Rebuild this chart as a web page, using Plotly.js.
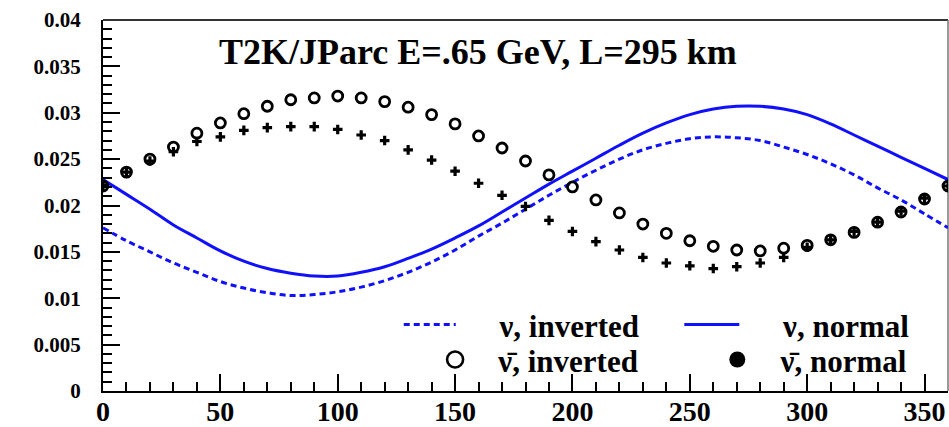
<!DOCTYPE html>
<html>
<head>
<meta charset="utf-8">
<script src="https://cdn.plot.ly/plotly-3.0.1.min.js"></script>
<style>html,body{margin:0;padding:0;background:#fff}#chart{width:949px;height:427px}</style>
</head>
<body>
<div id="chart"></div>
<script>
// delta_CP in degrees
const deltaCP = [0,10,20,30,40,50,60,70,80,90,100,110,120,130,140,150,160,170,180,
                 190,200,210,220,230,240,250,260,270,280,290,300,310,320,330,340,350,360];

// neutrino, inverted hierarchy (dashed line)
const nuInverted = [0.0176,0.0162,0.0150,0.0138,0.0128,0.0118,0.0111,0.0106,0.0103,0.0104,
                    0.0107,0.0112,0.0119,0.0128,0.0139,0.0152,0.0167,0.0181,0.0196,0.0211,
                    0.0225,0.0238,0.0250,0.0260,0.0267,0.0272,0.0274,0.0273,0.0270,0.0263,
                    0.0255,0.0245,0.0233,0.0219,0.0206,0.0191,0.0176];

// neutrino, normal hierarchy (solid line)
const nuNormal = [0.0228,0.0212,0.0196,0.0179,0.0165,0.0151,0.0140,0.0132,0.0127,0.0124,
                  0.0124,0.0128,0.0134,0.0143,0.0153,0.0165,0.0178,0.0193,0.0208,0.0223,
                  0.0237,0.0251,0.0265,0.0278,0.0289,0.0298,0.0304,0.0307,0.0307,0.0304,
                  0.0298,0.0288,0.0276,0.0264,0.0252,0.0240,0.0228];

// anti-neutrino, inverted hierarchy (open circles)
const nubarInverted = [0.0221,0.0236,0.0250,0.0263,0.0278,0.0289,0.0299,0.0307,0.0314,0.0316,
                       0.0318,0.0316,0.0312,0.0306,0.0298,0.0288,0.0275,0.0262,0.0248,0.0233,
                       0.0220,0.0206,0.0192,0.0180,0.0170,0.0162,0.0156,0.0152,0.0151,0.0154,
                       0.0157,0.0163,0.0171,0.0182,0.0193,0.0207,0.0221];

// anti-neutrino, normal hierarchy (small full markers)
const nubarNormal = [0.0222,0.0236,0.0248,0.0258,0.0269,0.0274,0.0281,0.0284,0.0285,0.0285,
                     0.0282,0.0276,0.0270,0.0260,0.0249,0.0237,0.0224,0.0211,0.0199,0.0184,
                     0.0172,0.0161,0.0152,0.0144,0.0138,0.0135,0.0132,0.0134,0.0138,0.0144,
                     0.0155,0.0163,0.0172,0.0182,0.0194,0.0208,0.0221];

const xTickVals = [0,50,100,150,200,250,300,350];
const xTickText = ['0','50','100','150','200','250','300','350'];
const yTickVals = [0,0.005,0.01,0.015,0.02,0.025,0.03,0.035,0.04];
const yTickText = ['0','0.005','0.01','0.015','0.02','0.025','0.03','0.035','0.04'];

const titleText = 'T2K/JParc E=.65 GeV, L=295 km';
const nbsp = '\u00A0';
const labels = {
  nuInv: nbsp.repeat(5) + 'ν, inverted',
  nuNor: nbsp.repeat(5) + 'ν, normal',
  nubarInv: nbsp.repeat(3) + 'ν\u0304, inverted',
  nubarNor: nbsp.repeat(3) + 'ν\u0304, normal'
};

const BLUE = '#1010ff';
const FONT = 'Liberation Serif';

const traces = [
  {x: deltaCP, y: nuInverted, type: 'scatter', mode: 'lines', name: labels.nuInv,
   line: {color: BLUE, width: 3, dash: '6px,4px', shape: 'spline'}, legend: 'legend'},
  {x: deltaCP, y: nuNormal, type: 'scatter', mode: 'lines', name: labels.nuNor,
   line: {color: BLUE, width: 3, shape: 'spline'}, legend: 'legend2'},
  {x: deltaCP, y: nubarInverted, type: 'scatter', mode: 'markers', showlegend: false,
   marker: {symbol: 'circle-open', size: 10, color: '#000', line: {width: 2.8, color: '#000'}}},
  {x: deltaCP, y: nubarNormal, type: 'scatter', mode: 'markers', showlegend: false,
   marker: {symbol: 'cross', size: 8, color: '#000', line: {width: 0}}},
  // legend keys for the anti-neutrino series (no points of their own)
  {x: [null], y: [null], type: 'scatter', mode: 'markers', name: labels.nubarInv, legend: 'legend3',
   marker: {symbol: 'circle-open', size: 16, color: '#000', line: {width: 2.6, color: '#000'}}},
  {x: [null], y: [null], type: 'scatter', mode: 'markers', name: labels.nubarNor, legend: 'legend4',
   marker: {symbol: 'circle', size: 16, color: '#000'}}
];

const legendBase = {
  xanchor: 'left', yanchor: 'middle', bgcolor: 'rgba(0,0,0,0)', borderwidth: 0,
  font: {family: FONT, size: 31, color: '#000', weight: 'bold'}, itemclick: false
};

const layout = {
  width: 949, height: 427,
  margin: {l: 103, r: 1, t: 20, b: 36, pad: 0},
  paper_bgcolor: '#fff', plot_bgcolor: '#fff',
  showlegend: true,
  font: {family: FONT, color: '#000', weight: 'bold'},
  xaxis: {
    range: [0, 360], showgrid: false, zeroline: false,
    showline: true, linecolor: '#000', linewidth: 2,
    ticks: 'inside', ticklen: 17, tickwidth: 2, tickcolor: '#000',
    tickmode: 'array', tickvals: xTickVals, ticktext: xTickText,
    tickfont: {family: FONT, size: 28, color: '#000', weight: 'bold'},
    ticklabelstandoff: -6,
    minor: {ticks: 'inside', ticklen: 9, tickwidth: 2, tickcolor: '#000', dtick: 10, tick0: 0, showgrid: false}
  },
  yaxis: {
    range: [0, 0.04], showgrid: false, zeroline: false,
    showline: true, linecolor: '#000', linewidth: 2,
    ticks: 'inside', ticklen: 17, tickwidth: 2, tickcolor: '#000',
    tickmode: 'array', tickvals: yTickVals, ticktext: yTickText,
    tickfont: {family: FONT, size: 21, color: '#000', weight: 'bold'},
    ticklabelstandoff: 16,
    minor: {ticks: 'inside', ticklen: 9, tickwidth: 2, tickcolor: '#000', dtick: 0.001, tick0: 0, showgrid: false}
  },
  shapes: [
    {type: 'line', xref: 'paper', yref: 'paper', x0: 0, x1: 1, y0: 1, y1: 1, layer: 'below',
     line: {color: '#333', width: 2}},
    {type: 'line', xref: 'paper', yref: 'paper', x0: 1, x1: 1, y0: 0, y1: 1, layer: 'below',
     line: {color: '#777', width: 1.5}}
  ],
  annotations: [
    {text: titleText, xref: 'paper', yref: 'paper', x: 0.444, y: 0.914,
     xanchor: 'center', yanchor: 'middle', showarrow: false,
     font: {family: FONT, size: 36, color: '#000', weight: 'bold'}}
  ],
  legend:  Object.assign({}, legendBase, {x: 0.350, y: 0.178, itemwidth: 52}),
  legend2: Object.assign({}, legendBase, {x: 0.682, y: 0.178, itemwidth: 55}),
  legend3: Object.assign({}, legendBase, {x: 0.393, y: 0.084, itemwidth: 30}),
  legend4: Object.assign({}, legendBase, {x: 0.727, y: 0.084, itemwidth: 30})
};

Plotly.newPlot('chart', traces, layout, {staticPlot: true, displayModeBar: false});
</script>
</body>
</html>
